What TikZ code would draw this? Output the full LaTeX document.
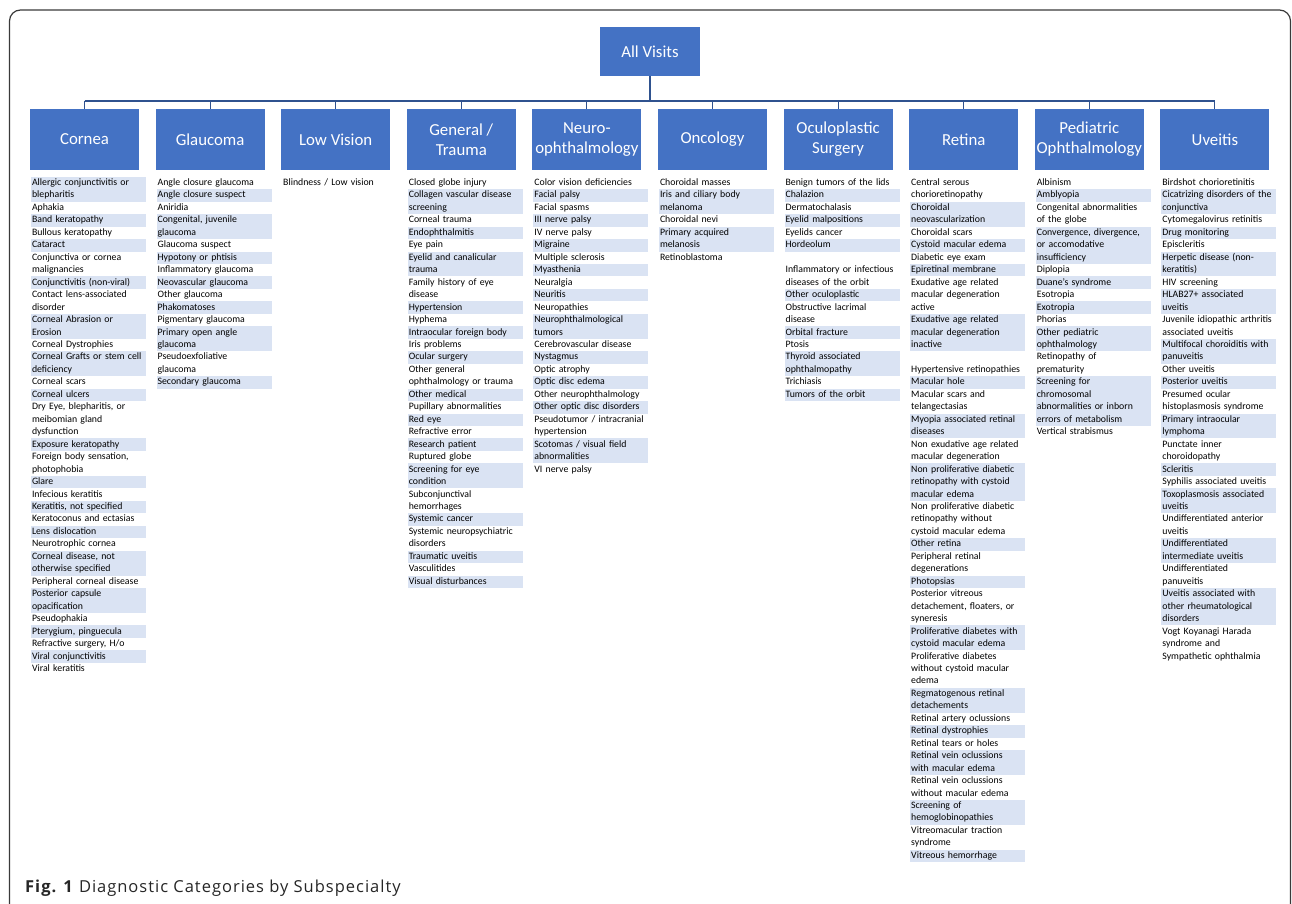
\documentclass[tikz,border=0pt]{standalone}
\usepackage{fontspec}
\setmainfont{Carlito}
\newfontfamily\captionfont[LetterSpace=6]{Open Sans}
\usetikzlibrary{positioning}
\definecolor{officeblue}{HTML}{4472C4}
\definecolor{linkblue}{HTML}{2F528F}
\definecolor{bandblue}{HTML}{DAE3F3}
\definecolor{framegray}{HTML}{3A3A3A}

\begin{document}
\begin{tikzpicture}[
  x=1pt, y=-1pt,
  catbox/.style={
    rectangle, fill=officeblue, inner sep=0pt, outer sep=0pt,
    minimum width=109pt, minimum height=61pt,
    align=center, text=white, font=\fontsize{16.8}{20}\selectfont
  },
  rootbox/.style={catbox, minimum width=100pt, minimum height=49pt},
  diag/.style={
    rectangle, text width=113pt, inner xsep=1pt, inner ysep=0pt, outer sep=0pt,
    align=left, font=\fontsize{9.8}{12.46}\selectfont,
    execute at begin node=\strut, execute at end node=\strut
  },
  liststart/.style={inner sep=0pt, outer sep=0pt, minimum size=0pt},
  stemline/.style={draw=linkblue, line width=2.6pt},
  busline/.style={draw=linkblue, line width=1.6pt},
  dropline/.style={draw=linkblue, line width=1pt}
]
\useasboundingbox (0,0) rectangle (1292,904);

% Frame
\draw[framegray, line width=1.2pt, rounded corners=11pt]
  (9.5,904) -- (9.5,10) -- (1290.5,10) -- (1290.5,904);

% Root
\node[rootbox] (all) at (650,51.5) {All Visits};

% Subspecialties
\node[catbox] (cornea) at (84.5,139.5) {Cornea};
\node[catbox, right=16.6pt of cornea] (glaucoma) {Glaucoma};
\node[catbox, right=16.6pt of glaucoma] (lowvision) {Low Vision};
\node[catbox, right=16.6pt of lowvision] (general) {General /\\Trauma};
\node[catbox, right=16.6pt of general] (neuro) {Neuro-\\ophthalmology};
\node[catbox, right=16.6pt of neuro] (oncology) {Oncology};
\node[catbox, right=16.6pt of oncology] (oculoplastic) {Oculoplastic\\Surgery};
\node[catbox, right=16.6pt of oculoplastic] (retina) {Retina};
\node[catbox, right=16.6pt of retina] (pediatric) {Pediatric\\Ophthalmology};
\node[catbox, right=16.6pt of pediatric] (uveitis) {Uveitis};

% Tree lines
\coordinate (hub) at (650,101);
\draw[stemline] (all.south) -- (hub);
\draw[busline] (hub -| cornea.north) -- (hub -| uveitis.north);
\foreach \c in {cornea,glaucoma,lowvision,general,neuro,oncology,oculoplastic,retina,pediatric,uveitis}
  \draw[dropline] (hub -| \c.north) -- (\c.north);

% List anchors under each box
\foreach \c in {cornea,glaucoma,lowvision,general,neuro,oncology,oculoplastic,retina,pediatric,uveitis}
  \node[liststart, below=6.8pt of \c.south west, anchor=north west, xshift=1pt] (\c-0) {};

% Cornea
\foreach \txt [count=\k, remember=\k as \j (initially 0)] in {
  {Allergic conjunctivitis or\\blepharitis}, Aphakia, Band keratopathy, Bullous keratopathy, Cataract,
  {Conjunctiva or cornea\\malignancies}, {Conjunctivitis (non-viral)}, {Contact lens-associated\\disorder},
  {Corneal Abrasion or\\Erosion}, Corneal Dystrophies, {Corneal Grafts or stem cell\\deficiency},
  Corneal scars, Corneal ulcers, {Dry Eye, blepharitis, or\\meibomian gland\\dysfunction},
  Exposure keratopathy, {Foreign body sensation,\\photophobia}, Glare, Infecious keratitis,
  {Keratitis, not specified}, Keratoconus and ectasias, Lens dislocation, Neurotrophic cornea,
  {Corneal disease, not\\otherwise specified}, Peripheral corneal disease, {Posterior capsule\\opacification},
  Pseudophakia, {Pterygium, pinguecula}, {Refractive surgery, H/o}, Viral conjunctivitis, Viral keratitis}{
  \pgfmathtruncatemacro\tint{100*mod(\k,2)}
  \node[diag, fill=bandblue!\tint, below=0pt of cornea-\j.south west, anchor=north west] (cornea-\k) {\txt};
}

% Glaucoma
\foreach \txt [count=\k, remember=\k as \j (initially 0)] in {
  Angle closure glaucoma, Angle closure suspect, Aniridia, {Congenital, juvenile\\glaucoma},
  Glaucoma suspect, Hypotony or phtisis, Inflammatory glaucoma, Neovascular glaucoma, Other glaucoma,
  Phakomatoses, Pigmentary glaucoma, {Primary open angle\\glaucoma}, {Pseudoexfoliative\\glaucoma},
  Secondary glaucoma}{
  \pgfmathtruncatemacro\tint{100*mod(\k+1,2)}
  \node[diag, fill=bandblue!\tint, below=0pt of glaucoma-\j.south west, anchor=north west] (glaucoma-\k) {\txt};
}

% Low vision
\node[diag, below=0pt of lowvision-0.south west, anchor=north west] (lowvision-1) {Blindness / Low vision};

% General / trauma
\foreach \txt [count=\k, remember=\k as \j (initially 0)] in {
  Closed globe injury, {Collagen vascular disease\\screening}, Corneal trauma, Endophthalmitis, Eye pain,
  {Eyelid and canalicular\\trauma}, {Family history of eye\\disease}, Hypertension, Hyphema,
  Intraocular foreign body, Iris problems, Ocular surgery, {Other general\\ophthalmology or trauma},
  Other medical, Pupillary abnormalities, Red eye, Refractive error, Research patient, Ruptured globe,
  {Screening for eye\\condition}, {Subconjunctival\\hemorrhages}, Systemic cancer,
  {Systemic neuropsychiatric\\disorders}, Traumatic uveitis, Vasculitides, Visual disturbances}{
  \pgfmathtruncatemacro\tint{100*mod(\k+1,2)}
  \node[diag, fill=bandblue!\tint, below=0pt of general-\j.south west, anchor=north west] (general-\k) {\txt};
}

% Neuro-ophthalmology
\foreach \txt [count=\k, remember=\k as \j (initially 0)] in {
  Color vision deficiencies, Facial palsy, Facial spasms, III nerve palsy, IV nerve palsy, Migraine,
  Multiple sclerosis, Myasthenia, Neuralgia, Neuritis, Neuropathies, {Neurophthalmological\\tumors},
  Cerebrovascular disease, Nystagmus, Optic atrophy, Optic disc edema, Other neurophthalmology,
  Other optic disc disorders, {Pseudotumor / intracranial\\hypertension},
  {Scotomas / visual field\\abnormalities}, VI nerve palsy}{
  \pgfmathtruncatemacro\tint{100*mod(\k+1,2)}
  \node[diag, fill=bandblue!\tint, below=0pt of neuro-\j.south west, anchor=north west] (neuro-\k) {\txt};
}

% Oncology
\foreach \txt [count=\k, remember=\k as \j (initially 0)] in {
  Choroidal masses, {Iris and ciliary body\\melanoma}, Choroidal nevi, {Primary acquired\\melanosis},
  Retinoblastoma}{
  \pgfmathtruncatemacro\tint{100*mod(\k+1,2)}
  \node[diag, fill=bandblue!\tint, below=0pt of oncology-\j.south west, anchor=north west] (oncology-\k) {\txt};
}

% Oculoplastic surgery
\foreach \txt [count=\k, remember=\k as \j (initially 0)] in {
  Benign tumors of the lids, Chalazion, Dermatochalasis, Eyelid malpositions, Eyelids cancer, Hordeolum,
  {\mbox{}\\Inflammatory or infectious\\diseases of the orbit}, Other oculoplastic,
  {Obstructive lacrimal\\disease}, Orbital fracture, Ptosis, {Thyroid associated\\ophthalmopathy},
  Trichiasis, Tumors of the orbit}{
  \pgfmathtruncatemacro\tint{100*mod(\k+1,2)}
  \node[diag, fill=bandblue!\tint, below=0pt of oculoplastic-\j.south west, anchor=north west] (oculoplastic-\k) {\txt};
}

% Retina
\foreach \txt [count=\k, remember=\k as \j (initially 0)] in {
  {Central serous\\chorioretinopathy}, {Choroidal\\neovascularization}, Choroidal scars,
  Cystoid macular edema, Diabetic eye exam, Epiretinal membrane,
  {Exudative age related\\macular degeneration\\active}, {Exudative age related\\macular degeneration\\inactive},
  {\mbox{}\\Hypertensive retinopathies}, Macular hole, {Macular scars and\\telangectasias},
  {Myopia associated retinal\\diseases}, {Non exudative age related\\macular degeneration},
  {Non proliferative diabetic\\retinopathy with cystoid\\macular edema},
  {Non proliferative diabetic\\retinopathy without\\cystoid macular edema}, Other retina,
  {Peripheral retinal\\degenerations}, Photopsias, {Posterior vitreous\\detachement, floaters, or\\syneresis},
  {Proliferative diabetes with\\cystoid macular edema}, {Proliferative diabetes\\without cystoid macular\\edema},
  {Regmatogenous retinal\\detachements}, Retinal artery oclussions, Retinal dystrophies,
  Retinal tears or holes, {Retinal vein oclussions\\with macular edema},
  {Retinal vein oclussions\\without macular edema}, {Screening of\\hemoglobinopathies},
  {Vitreomacular traction\\syndrome}, Vitreous hemorrhage}{
  \pgfmathtruncatemacro\tint{100*mod(\k+1,2)}
  \node[diag, fill=bandblue!\tint, below=0pt of retina-\j.south west, anchor=north west] (retina-\k) {\txt};
}

% Pediatric ophthalmology
\foreach \txt [count=\k, remember=\k as \j (initially 0)] in {
  Albinism, Amblyopia, {Congenital abnormalities\\of the globe},
  {Convergence, divergence,\\or accomodative\\insufficiency}, Diplopia, Duane's syndrome, Esotropia,
  Exotropia, Phorias, {Other pediatric\\ophthalmology}, {Retinopathy of\\prematurity},
  {Screening for\\chromosomal\\abnormalities or inborn\\errors of metabolism}, Vertical strabismus}{
  \pgfmathtruncatemacro\tint{100*mod(\k+1,2)}
  \node[diag, fill=bandblue!\tint, below=0pt of pediatric-\j.south west, anchor=north west] (pediatric-\k) {\txt};
}

% Uveitis
\foreach \txt [count=\k, remember=\k as \j (initially 0)] in {
  Birdshot chorioretinitis, {Cicatrizing disorders of the\\conjunctiva}, Cytomegalovirus retinitis,
  Drug monitoring, Episcleritis, {Herpetic disease (non-\\keratitis)}, HIV screening,
  {HLAB27+ associated\\uveitis}, {Juvenile idiopathic arthritis\\associated uveitis},
  {Multifocal choroiditis with\\panuveitis}, Other uveitis, Posterior uveitis,
  {Presumed ocular\\histoplasmosis syndrome}, {Primary intraocular\\lymphoma},
  {Punctate inner\\choroidopathy}, Scleritis, Syphilis associated uveitis,
  {Toxoplasmosis associated\\uveitis}, {Undifferentiated anterior\\uveitis},
  {Undifferentiated\\intermediate uveitis}, {Undifferentiated\\panuveitis},
  {Uveitis associated with\\other rheumatological\\disorders},
  {Vogt Koyanagi Harada\\syndrome and\\Sympathetic ophthalmia}}{
  \pgfmathtruncatemacro\tint{100*mod(\k+1,2)}
  \node[diag, fill=bandblue!\tint, below=0pt of uveitis-\j.south west, anchor=north west] (uveitis-\k) {\txt};
}

% Caption
\node[anchor=base west, text=black!85, inner sep=0pt, font=\captionfont\fontsize{16.5}{19}\selectfont]
  (caption) at (25,892) {\textbf{Fig. 1} Diagnostic Categories by Subspecialty};

\end{tikzpicture}
\end{document}
